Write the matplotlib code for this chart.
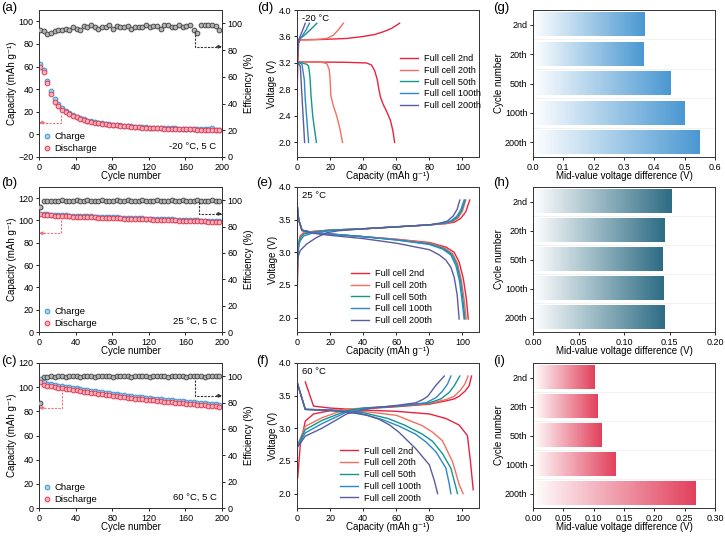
import numpy as np
import matplotlib
matplotlib.use('Agg')
import matplotlib.pyplot as plt
import matplotlib.ticker
from matplotlib.colors import LinearSegmentedColormap

plt.rcParams['font.family'] = ['Liberation Sans', 'DejaVu Sans']
plt.rcParams['font.size'] = 6.5
plt.rcParams['axes.linewidth'] = 0.7
plt.rcParams['axes.edgecolor'] = '#333333'
plt.rcParams['xtick.major.size'] = 2.5
plt.rcParams['ytick.major.size'] = 2.5
plt.rcParams['xtick.major.width'] = 0.6
plt.rcParams['ytick.major.width'] = 0.6
plt.rcParams['xtick.major.pad'] = 1.5
plt.rcParams['ytick.major.pad'] = 1.5
plt.rcParams['xtick.labelsize'] = 6.5
plt.rcParams['ytick.labelsize'] = 6.5

# ---------------- cycling data (a)-(c) ----------------
CYCLES = list(range(1, 200, 4))

A_CHG = [62, 57, 47, 38, 31, 26.5, 23, 21, 19, 17.3, 15.8, 14.3, 13.2, 12.2, 11.6, 11, 10.5, 10, 9.5, 9,
         8.6, 8.3, 8, 7.7, 7.4, 7.1, 6.9, 6.7, 6.4, 6.2, 6.0, 5.9, 5.8, 5.7, 5.6, 5.5, 5.4, 5.3, 5.2, 5.1,
         5.0, 4.9, 4.8, 4.7, 4.6, 4.5, 4.4, 5.3, 4.2, 4.1]
A_DIS = [60, 55, 45, 36, 29, 25, 22, 20, 18, 16.5, 15, 13.5, 12.5, 11.5, 11, 10.5, 10, 9.5, 9, 8.5,
         8.2, 7.9, 7.6, 7.3, 7.0, 6.7, 6.5, 6.3, 6.0, 5.8, 5.6, 5.5, 5.4, 5.3, 5.2, 5.1, 5.0, 4.9, 4.8, 4.7,
         4.6, 4.5, 4.4, 4.3, 4.2, 4.1, 4.0, 3.9, 3.8, 3.7]
A_EFF = [95, 94, 92, 93, 94, 95, 95, 96, 95, 97, 96, 95, 98, 97, 99, 97, 96, 97, 97, 99,
         96, 98, 97, 97, 98, 96, 97, 97, 97, 99, 97, 98, 98, 96, 99, 99, 97, 97, 99, 97,
         98, 99, 95, 93, 99, 99, 99, 99, 98, 95]

B_CHG = [112, 105.8, 105.4, 105.2, 105.0, 104.8, 104.7, 104.5, 104.4, 104.2, 104.1, 104.0, 103.8, 103.7,
         103.6, 103.4, 103.3, 103.2, 103.1, 102.9, 102.8, 102.7, 102.6, 102.4, 102.3, 102.2, 102.1, 101.9,
         101.8, 101.7, 101.6, 101.5, 101.3, 101.2, 101.1, 101.0, 100.9, 100.7, 100.6, 100.5, 100.4, 100.3,
         100.1, 100.0, 99.9, 99.8, 99.7, 99.6, 99.5, 99.4]
B_DIS = [105.5, 105, 104.7, 104.5, 104.3, 104.1, 104.0, 103.8, 103.7, 103.5, 103.4, 103.3, 103.1, 103.0,
         102.9, 102.7, 102.6, 102.5, 102.4, 102.2, 102.1, 102.0, 101.9, 101.7, 101.6, 101.5, 101.4, 101.2,
         101.1, 101.0, 100.9, 100.8, 100.6, 100.5, 100.4, 100.3, 100.2, 100.0, 99.9, 99.8, 99.7, 99.6,
         99.4, 99.3, 99.2, 99.1, 99.0, 98.9, 98.8, 98.7]
B_EFF = [94.5, 99.5, 99.6, 99.7, 99.6, 99.7, 99.8, 99.6, 99.7, 99.7, 99.8, 99.6, 99.7, 99.8, 99.7,
         99.6, 99.7, 99.8, 99.7, 99.7, 99.6, 99.8, 99.7, 99.7, 99.8, 99.6, 99.7, 99.7, 99.8, 99.7,
         99.6, 99.7, 99.8, 99.7, 99.7, 99.6, 99.8, 99.7, 99.7, 99.8, 99.6, 99.7, 99.7, 99.8, 99.7,
         99.6, 99.7, 99.8, 99.7, 99.7]

C_CHG = [106.5, 104.0, 103.0, 102.4, 101.8, 101.2, 100.7, 100.3, 99.8, 99.4, 99.0, 98.5, 98.0, 97.5,
         97.0, 96.6, 96.1, 95.6, 95.2, 94.8, 94.4, 94.0, 93.6, 93.2, 92.8, 92.5, 92.1, 91.8, 91.5, 91.2,
         90.9, 90.6, 90.3, 90.0, 89.7, 89.4, 89.1, 88.9, 88.6, 88.3, 88.0, 87.8, 87.5, 87.2, 86.9, 86.7,
         86.4, 86.1, 85.9, 85.6]
C_DIS = [104, 102.2, 101.3, 100.7, 100.1, 99.6, 99.1, 98.7, 98.2, 97.8, 97.4, 96.9, 96.4, 95.9, 95.4,
         95.0, 94.5, 94.0, 93.6, 93.2, 92.8, 92.4, 92.0, 91.6, 91.2, 90.9, 90.5, 90.2, 89.9, 89.6, 89.3,
         89.0, 88.7, 88.4, 88.1, 87.8, 87.5, 87.3, 87.0, 86.7, 86.4, 86.2, 85.9, 85.6, 85.3, 85.1, 84.8,
         84.5, 84.3, 84.0]
C_EFF = [79.5, 99.6, 99.7, 99.8, 99.7, 99.8, 99.8, 99.7, 99.8, 99.8, 99.9, 99.7, 99.8, 99.8, 99.9,
         99.7, 99.8, 99.8, 99.9, 99.8, 99.7, 99.8, 99.9, 99.8, 99.8, 99.7, 99.8, 99.9, 99.8, 99.8,
         99.7, 99.8, 99.9, 99.8, 99.8, 99.7, 99.8, 99.9, 99.8, 99.8, 99.7, 99.8, 99.9, 99.8, 99.8,
         99.7, 99.8, 99.9, 99.8, 99.8]

# ---------------- voltage profiles (d)-(f): (capacity, voltage) ----------------
CELL_LABELS = ['Full cell 2nd', 'Full cell 20th', 'Full cell 50th', 'Full cell 100th', 'Full cell 200th']
CELL_COLORS = ['#e8233f', '#f2705f', '#13978a', '#2a88cc', '#5b5c9e']

D_CHARGE = [
    ([0, 0.5, 1, 2, 5, 15, 30, 40, 47, 52, 57, 62], [2.72, 3.2, 3.5, 3.55, 3.55, 3.555, 3.57, 3.6, 3.63, 3.67, 3.72, 3.8]),
    ([0, 0.5, 1, 5, 12, 18, 22, 25, 28], [3.2, 3.45, 3.55, 3.55, 3.555, 3.57, 3.62, 3.7, 3.8]),
    ([0, 0.5, 1, 2, 5, 8, 12], [3.2, 3.45, 3.55, 3.57, 3.63, 3.7, 3.8]),
    ([0, 0.5, 1, 3, 5.5, 7.5], [3.2, 3.45, 3.55, 3.6, 3.7, 3.8]),
    ([0, 0.5, 1, 3, 5], [3.2, 3.45, 3.55, 3.67, 3.8]),
]
D_DISCHARGE = [
    ([0, 10, 30, 42, 45, 47, 48.5, 49.5, 50.5, 52, 54.5, 56.5, 58, 59], [3.22, 3.215, 3.21, 3.2, 3.17, 3.08, 2.95, 2.8, 2.68, 2.58, 2.45, 2.33, 2.17, 2.0]),
    ([0, 15, 18, 19.5, 20, 20.5, 22, 24, 26, 27.5], [3.22, 3.21, 3.19, 3.1, 2.95, 2.7, 2.55, 2.4, 2.2, 2.0]),
    ([0, 3, 6, 7, 7.8, 8.5, 9.5, 11.7], [3.22, 3.2, 3.18, 3.15, 3.0, 2.7, 2.4, 2.0]),
    ([0, 3, 4.4, 5, 7], [3.22, 3.18, 2.95, 2.65, 2.0]),
    ([0, 2, 3, 4.6], [3.22, 3.15, 2.7, 2.0]),
]

E_CHARGE = [
    ([0, 0.5, 1, 2, 4, 10, 20, 40, 60, 80, 90, 95, 99, 102, 104.4], [2.2, 2.8, 3.15, 3.25, 3.3, 3.32, 3.34, 3.36, 3.39, 3.42, 3.44, 3.46, 3.52, 3.62, 3.8]),
    ([0, 0.5, 1, 2, 4, 10, 20, 40, 60, 80, 90, 94, 97.5, 100, 102], [2.4, 2.9, 3.15, 3.25, 3.3, 3.32, 3.34, 3.36, 3.39, 3.42, 3.44, 3.47, 3.53, 3.63, 3.8]),
    ([0, 0.5, 1, 2, 4, 10, 20, 40, 60, 80, 90, 94, 97, 99.5, 101.6], [2.5, 2.95, 3.12, 3.22, 3.28, 3.31, 3.34, 3.36, 3.39, 3.42, 3.45, 3.48, 3.54, 3.64, 3.8]),
    ([0, 0.5, 1, 2, 4, 10, 20, 40, 60, 80, 89, 93, 96.5, 99, 101], [2.6, 3.0, 3.1, 3.18, 3.25, 3.3, 3.33, 3.36, 3.39, 3.42, 3.45, 3.48, 3.55, 3.65, 3.8]),
    ([0, 2, 6, 12, 18, 25, 40, 60, 80, 87, 91, 94.5, 96.8, 98.4], [2.88, 3.03, 3.13, 3.23, 3.3, 3.33, 3.36, 3.39, 3.42, 3.45, 3.48, 3.56, 3.66, 3.8]),
]
E_DISCHARGE = [
    ([0, 1, 3, 10, 20, 40, 60, 80, 90, 95, 98, 100.5, 102.3, 103.5], [3.75, 3.5, 3.34, 3.3, 3.28, 3.24, 3.2, 3.15, 3.08, 3.0, 2.85, 2.6, 2.3, 1.98]),
    ([0, 1, 3, 10, 20, 40, 60, 80, 89, 94, 97, 99.3, 101, 102.3], [3.75, 3.5, 3.34, 3.3, 3.28, 3.24, 3.2, 3.14, 3.07, 2.98, 2.83, 2.58, 2.28, 1.98]),
    ([0, 1, 3, 10, 20, 40, 60, 80, 88.5, 93.5, 96.5, 98.8, 100.3, 101.5], [3.75, 3.5, 3.34, 3.3, 3.28, 3.24, 3.19, 3.13, 3.06, 2.97, 2.82, 2.57, 2.27, 1.98]),
    ([0, 1, 3, 10, 20, 40, 60, 80, 88, 93, 96, 98.3, 99.8, 101], [3.75, 3.5, 3.34, 3.3, 3.28, 3.24, 3.19, 3.12, 3.05, 2.96, 2.8, 2.55, 2.25, 1.98]),
    ([0, 1, 3, 10, 20, 40, 60, 80, 86, 90, 93, 95, 96.8, 98], [3.75, 3.5, 3.33, 3.29, 3.26, 3.21, 3.14, 3.04, 2.96, 2.88, 2.77, 2.62, 2.35, 1.98]),
]

F_CHARGE = [
    ([0.4, 2, 5, 10, 20, 40, 60, 80, 90, 95, 98, 101.6, 104, 105.5], [2.24, 2.75, 3.11, 3.22, 3.27, 3.3, 3.33, 3.37, 3.42, 3.45, 3.49, 3.57, 3.65, 3.8]),
    ([0, 5, 15, 29, 40, 60, 80, 90, 95, 99, 101.5, 103.4], [2.72, 3.03, 3.16, 3.29, 3.31, 3.34, 3.38, 3.44, 3.49, 3.59, 3.68, 3.8]),
    ([0, 5, 15, 30, 40, 60, 80, 87, 92, 95, 98.4], [2.72, 2.98, 3.12, 3.27, 3.31, 3.34, 3.39, 3.45, 3.55, 3.65, 3.8]),
    ([0, 5, 15, 30, 40, 60, 78, 84, 88, 91, 93], [2.71, 2.93, 3.07, 3.25, 3.3, 3.34, 3.39, 3.47, 3.57, 3.68, 3.8]),
    ([0, 5, 15, 30, 45, 60, 71.7, 76, 79, 84, 89], [2.7, 2.88, 3.0, 3.22, 3.31, 3.35, 3.39, 3.44, 3.49, 3.66, 3.8]),
]
F_DISCHARGE = [
    ([5, 10, 20, 40, 60, 80, 90, 98, 103, 104.8, 106.5], [3.71, 3.34, 3.31, 3.28, 3.26, 3.22, 3.15, 3.05, 2.89, 2.5, 2.06]),
    ([0, 5, 20, 40, 60, 75.8, 82, 87.9, 94, 98, 100.4], [3.71, 3.29, 3.28, 3.26, 3.2, 3.04, 2.94, 2.81, 2.49, 2.14, 2.0]),
    ([0, 5, 20, 40, 55, 65, 75.8, 82, 88, 93, 95.5, 97], [3.71, 3.29, 3.28, 3.24, 3.15, 3.05, 2.91, 2.8, 2.61, 2.39, 2.15, 2.0]),
    ([0, 5, 20, 40, 52, 62, 71.7, 78, 84, 90, 92, 93], [3.71, 3.29, 3.28, 3.22, 3.13, 3.03, 2.91, 2.79, 2.64, 2.39, 2.15, 2.0]),
    ([0, 5, 20, 33, 42, 49.5, 56, 61.6, 71.7, 80, 83, 85], [3.71, 3.29, 3.27, 3.24, 3.2, 3.14, 3.05, 2.94, 2.69, 2.44, 2.2, 2.0]),
]

# ---------------- mid-value voltage difference (g)-(i) ----------------
BAR_LABELS = ['2nd', '20th', '50th', '100th', '200th']
G_VALUES = [0.366, 0.364, 0.452, 0.499, 0.549]
H_VALUES = [0.152, 0.1445, 0.142, 0.143, 0.144]
I_VALUES = [0.1017, 0.106, 0.113, 0.136, 0.268]

W, H = 725, 536
fig = plt.figure(figsize=(W / 100, H / 100), dpi=100)


def px_axes(left, top, right, bottom):
    return fig.add_axes([left / W, (H - bottom) / H, (right - left) / W, (bottom - top) / H])


ROWS = [(10, 157), (187, 332), (363, 508)]
COL1 = (39, 222)
COL2 = (297, 479)
COL3 = (533, 715)

LABEL_FS = 7
CAP_LABEL = 'Capacity (mAh g\u207b\u00b9)'
BLUE = dict(mec='#3b94d4', mfc='#a8d4f2')
RED = dict(mec='#e33a52', mfc='#f7b3bc')
GRAY = dict(mec='#4a4a4a', mfc='#b5b5b5')


def dashed_arrow(ax, xs, ys, color, direction):
    ax.plot(xs, ys, ls=(0, (2, 1.2)), lw=0.8, color=color, clip_on=False, zorder=5)
    off = 4 if direction == 'left' else -4
    ax.annotate('', xy=(xs[-1], ys[-1]), xytext=(off, 0), textcoords='offset points',
                xycoords='data', annotation_clip=False,
                arrowprops=dict(arrowstyle='-|>,head_length=0.3,head_width=0.15',
                                color=color, lw=0.8, shrinkA=0, shrinkB=0))


def cycle_panel(ax, chg, dis, eff, ylim, yticks, eff_ylim, label, red_arrow, black_arrow):
    ax.plot(CYCLES, chg, 'o', ms=3.4, mew=0.7, ls='none', label='Charge', zorder=3, **BLUE)
    ax.plot(CYCLES, dis, 'o', ms=3.4, mew=0.7, ls='none', label='Discharge', zorder=4, **RED)
    ax.set_xlim(0, 200)
    ax.set_ylim(*ylim)
    ax.set_yticks(yticks)
    ax.set_xticks(range(0, 201, 40))
    ax.set_xlabel('Cycle number', fontsize=LABEL_FS, labelpad=-0.5)
    ax.set_ylabel(CAP_LABEL, fontsize=LABEL_FS, labelpad=1)
    ax.legend(loc='lower left', frameon=False, fontsize=6.8, handletextpad=0.2,
              borderaxespad=0.2, labelspacing=0.3, handlelength=1.0, borderpad=0.2)
    ax.text(0.97, 0.04, label, transform=ax.transAxes, ha='right', va='bottom', fontsize=6.8)
    dashed_arrow(ax, red_arrow[0], red_arrow[1], '#f0717f', 'left')
    ax2 = ax.twinx()
    ax2.plot(CYCLES, eff, 'o', ms=3.4, mew=0.7, ls='none', zorder=3, **GRAY)
    ax2.set_ylim(*eff_ylim)
    ax2.set_yticks(range(0, 101, 20))
    ax2.set_ylabel('Efficiency (%)', fontsize=LABEL_FS, labelpad=1)
    dashed_arrow(ax2, black_arrow[0], black_arrow[1], '#333333', 'right')
    return ax2


ax_a = px_axes(COL1[0], ROWS[0][0], COL1[1], ROWS[0][1])
cycle_panel(ax_a, A_CHG, A_DIS, A_EFF, (-20, 110), range(-20, 101, 20), (0, 110),
            '-20 °C, 5 C', ([24.5, 24.5, 0], [17, 10.5, 10.5]), ([170, 170, 200], [94, 82.5, 82.5]))
ax_b = px_axes(COL1[0], ROWS[1][0], COL1[1], ROWS[1][1])
cycle_panel(ax_b, B_CHG, B_DIS, B_EFF, (0, 130), range(0, 121, 20), (0, 110),
            '25 °C, 5 C', ([24.3, 24.3, 0], [100, 88.5, 88.5]), ([175, 175, 200], [98.5, 89.6, 89.6]))
ax_c = px_axes(COL1[0], ROWS[2][0], COL1[1], ROWS[2][1])
cycle_panel(ax_c, C_CHG, C_DIS, C_EFF, (0, 120), range(0, 121, 20), (0, 110),
            '60 °C, 5 C', ([25.5, 25.5, 0], [95.7, 82.8, 82.8]), ([170.5, 170.5, 200], [97, 85.1, 85.1]))


def profile_panel(ax, charge, discharge, yticks, temp, legend_anchor):
    for (cx, cy), (dx, dy), lab, col in zip(charge, discharge, CELL_LABELS, CELL_COLORS):
        ax.plot(dx, dy, color=col, lw=1.0, label=lab)
        ax.plot(cx, cy, color=col, lw=1.0)
    ax.set_xlim(0, 110)
    ax.set_ylim(1.78, 4.0)
    ax.set_xticks(range(0, 101, 20))
    ax.set_yticks(yticks)
    ax.yaxis.set_major_formatter(matplotlib.ticker.FormatStrFormatter('%.1f'))
    ax.set_xlabel(CAP_LABEL, fontsize=LABEL_FS, labelpad=-0.5)
    ax.set_ylabel('Voltage (V)', fontsize=LABEL_FS, labelpad=1)
    ax.text(0.03, 0.97, temp, transform=ax.transAxes, ha='left', va='top', fontsize=6.8)
    ax.legend(loc='center left', bbox_to_anchor=legend_anchor, frameon=False, fontsize=6.6,
              handlelength=2.0, labelspacing=0.3, handletextpad=0.6)


ax_d = px_axes(COL2[0], ROWS[0][0], COL2[1], ROWS[0][1])
profile_panel(ax_d, D_CHARGE, D_DISCHARGE, [2.0, 2.4, 2.8, 3.2, 3.6, 4.0], '-20 °C', (0.52, 0.51))
ax_e = px_axes(COL2[0], ROWS[1][0], COL2[1], ROWS[1][1])
profile_panel(ax_e, E_CHARGE, E_DISCHARGE, [2.0, 2.5, 3.0, 3.5, 4.0], '25 °C', (0.25, 0.24))
ax_f = px_axes(COL2[0], ROWS[2][0], COL2[1], ROWS[2][1])
profile_panel(ax_f, F_CHARGE, F_DISCHARGE, [2.0, 2.5, 3.0, 3.5, 4.0], '60 °C', (0.19, 0.23))


def gradient_panel(ax, values, color, xmax, xticks, fmt):
    cmap = LinearSegmentedColormap.from_list('grad', ['#ffffff', color])
    grad = np.linspace(0, 1, 256).reshape(1, -1)
    for i, v in enumerate(values):
        ax.imshow(grad, cmap=cmap, extent=[0, v, i + 0.4, i - 0.4], aspect='auto',
                  interpolation='bilinear', zorder=2)
    for y in np.arange(0.5, len(values) - 0.5, 1):
        ax.axhline(y, color='#f0f0f0', lw=0.6, zorder=1)
    ax.set_xlim(0, xmax)
    ax.set_ylim(len(values) - 0.5, -0.5)
    ax.set_yticks(range(len(values)))
    ax.set_yticklabels(BAR_LABELS)
    ax.set_xticks(xticks)
    ax.set_xticklabels([fmt % t for t in xticks])
    ax.set_xlabel('Mid-value voltage difference (V)', fontsize=LABEL_FS, labelpad=-0.5)
    ax.set_ylabel('Cycle number', fontsize=LABEL_FS, labelpad=1)


ax_g = px_axes(COL3[0], ROWS[0][0], COL3[1], ROWS[0][1])
gradient_panel(ax_g, G_VALUES, '#4a98d2', 0.6, [0, 0.1, 0.2, 0.3, 0.4, 0.5, 0.6], '%.1f')
ax_h = px_axes(COL3[0], ROWS[1][0], COL3[1], ROWS[1][1])
gradient_panel(ax_h, H_VALUES, '#2d6c84', 0.2, [0, 0.05, 0.10, 0.15, 0.20], '%.2f')
ax_i = px_axes(COL3[0], ROWS[2][0], COL3[1], ROWS[2][1])
gradient_panel(ax_i, I_VALUES, '#e2405c', 0.3, [0, 0.05, 0.10, 0.15, 0.20, 0.25, 0.30], '%.2f')

PANEL_POS = [('(a)', 1, 2), ('(b)', 1, 177), ('(c)', 1, 355), ('(d)', 257, 2), ('(e)', 256, 177),
             ('(f)', 256, 355), ('(g)', 493, 2), ('(h)', 493, 177), ('(i)', 493, 355)]
for txt, x, y in PANEL_POS:
    fig.text(x / W, 1 - y / H, txt, fontsize=9.5, ha='left', va='top')

fig.savefig('out.png', dpi=100)
